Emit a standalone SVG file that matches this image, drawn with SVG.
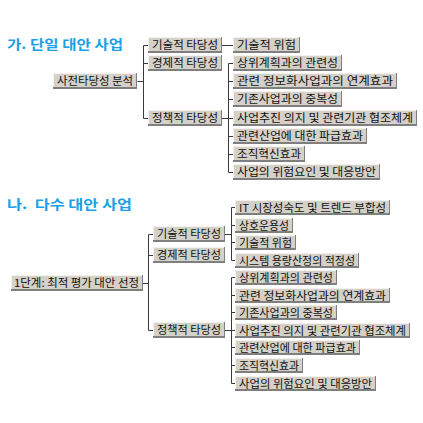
<svg xmlns="http://www.w3.org/2000/svg" width="423" height="423" viewBox="0 0 423 423">
<style>
.t{font-family:"Noto Sans CJK KR","Liberation Sans",sans-serif;font-size:13px;font-weight:bold;fill:#1c9fe6}
.sh{fill:#7f7f7f}
.fc{fill:#d5d1c9}
.hl{fill:none;stroke:#f4f2ee;stroke-width:1}
.lb{font-family:"Noto Sans CJK KR","Liberation Sans",sans-serif;font-size:11px;fill:#111}
.c{fill:none;stroke:#3a3a3a;stroke-width:1}
</style>
<rect width="423" height="423" fill="#fff"/>
<text class="t" x="7" y="49" textLength="116" lengthAdjust="spacingAndGlyphs">가. 단일 대안 사업</text>
<text class="t" x="7" y="209" textLength="125" lengthAdjust="spacingAndGlyphs" xml:space="preserve">나.  다수 대안 사업</text>

<g id="connectors">
<path class="c" d="M137.5,81.5H143.5M143.5,45.5V118.5M143.5,45.5H148M143.5,63.5H148M143.5,118.5H148"/>
<path class="c" d="M222,45.5H233"/>
<path class="c" d="M222,118.5H228.5M228.5,63.5V172.5M228.5,63.5H233M228.5,81.5H233M228.5,99.5H233M228.5,118.5H233M228.5,136.5H233M228.5,154.5H233M228.5,172.5H233"/>
<path class="c" d="M143,283.5H148.5M148.5,234.5V330.5M148.5,234.5H153M148.5,255.5H153M148.5,330.5H153"/>
<path class="c" d="M225,234.5H231.5M231.5,207.5V260.5M231.5,207.5H235M231.5,225.5H235M231.5,242.5H235M231.5,260.5H235"/>
<path class="c" d="M225,330.5H231.5M231.5,277.5V383.5M231.5,277.5H235M231.5,295.5H235M231.5,312.5H235M231.5,330.5H235M231.5,347.5H235M231.5,365.5H235M231.5,383.5H235"/>
</g>

<g id="n-root1"><rect class="sh" x="53" y="73" width="84" height="16"/><rect class="fc" x="53" y="73" width="83" height="14"/><path class="hl" d="M53.5,87V73.5H136"/><text class="lb" x="57" y="85" textLength="76" lengthAdjust="spacingAndGlyphs">사전타당성 분석</text></g>
<g id="n-a-tech"><rect class="sh" x="148" y="37" width="74" height="16"/><rect class="fc" x="148" y="37" width="73" height="14"/><path class="hl" d="M148.5,51V37.5H221"/><text class="lb" x="152" y="49" textLength="66" lengthAdjust="spacingAndGlyphs">기술적 타당성</text></g>
<g id="n-a-econ"><rect class="sh" x="148" y="55" width="74" height="16"/><rect class="fc" x="148" y="55" width="73" height="14"/><path class="hl" d="M148.5,69V55.5H221"/><text class="lb" x="152" y="67" textLength="66" lengthAdjust="spacingAndGlyphs">경제적 타당성</text></g>
<g id="n-a-pol"><rect class="sh" x="148" y="110" width="74" height="16"/><rect class="fc" x="148" y="110" width="73" height="14"/><path class="hl" d="M148.5,124V110.5H221"/><text class="lb" x="152" y="122" textLength="66" lengthAdjust="spacingAndGlyphs">정책적 타당성</text></g>

<g id="n-a1"><rect class="sh" x="233" y="37" width="67" height="16"/><rect class="fc" x="233" y="37" width="66" height="14"/><path class="hl" d="M233.5,51V37.5H299"/><text class="lb" x="237" y="49" textLength="59" lengthAdjust="spacingAndGlyphs">기술적 위험</text></g>
<g id="n-a2"><rect class="sh" x="233" y="55" width="109" height="16"/><rect class="fc" x="233" y="55" width="108" height="14"/><path class="hl" d="M233.5,69V55.5H341"/><text class="lb" x="237" y="67" textLength="101" lengthAdjust="spacingAndGlyphs">상위계획과의 관련성</text></g>
<g id="n-a3"><rect class="sh" x="233" y="73" width="164" height="16"/><rect class="fc" x="233" y="73" width="163" height="14"/><path class="hl" d="M233.5,87V73.5H396"/><text class="lb" x="237" y="85" textLength="156" lengthAdjust="spacingAndGlyphs">관련 정보화사업과의 연계효과</text></g>
<g id="n-a4"><rect class="sh" x="233" y="91" width="109" height="16"/><rect class="fc" x="233" y="91" width="108" height="14"/><path class="hl" d="M233.5,105V91.5H341"/><text class="lb" x="237" y="103" textLength="101" lengthAdjust="spacingAndGlyphs">기존사업과의 중복성</text></g>
<g id="n-a5"><rect class="sh" x="233" y="110" width="184" height="16"/><rect class="fc" x="233" y="110" width="183" height="14"/><path class="hl" d="M233.5,124V110.5H416"/><text class="lb" x="237" y="122" textLength="176" lengthAdjust="spacingAndGlyphs">사업추진 의지 및 관련기관 협조체계</text></g>
<g id="n-a6"><rect class="sh" x="233" y="128" width="134" height="16"/><rect class="fc" x="233" y="128" width="133" height="14"/><path class="hl" d="M233.5,142V128.5H366"/><text class="lb" x="237" y="140" textLength="126" lengthAdjust="spacingAndGlyphs">관련산업에 대한 파급효과</text></g>
<g id="n-a7"><rect class="sh" x="233" y="146" width="72" height="16"/><rect class="fc" x="233" y="146" width="71" height="14"/><path class="hl" d="M233.5,160V146.5H304"/><text class="lb" x="237" y="158" textLength="64" lengthAdjust="spacingAndGlyphs">조직혁신효과</text></g>
<g id="n-a8"><rect class="sh" x="233" y="164" width="147" height="16"/><rect class="fc" x="233" y="164" width="146" height="14"/><path class="hl" d="M233.5,178V164.5H379"/><text class="lb" x="237" y="176" textLength="139" lengthAdjust="spacingAndGlyphs">사업의 위험요인 및 대응방안</text></g>

<g id="n-root2"><rect class="sh" x="11" y="275" width="132" height="16"/><rect class="fc" x="11" y="275" width="131" height="14"/><path class="hl" d="M11.5,289V275.5H142"/><text class="lb" x="14" y="287" textLength="125" lengthAdjust="spacingAndGlyphs">1단계: 최적 평가 대안 선정</text></g>
<g id="n-b-tech"><rect class="sh" x="153" y="226" width="72" height="16"/><rect class="fc" x="153" y="226" width="71" height="14"/><path class="hl" d="M153.5,240V226.5H224"/><text class="lb" x="157" y="238" textLength="64" lengthAdjust="spacingAndGlyphs">기술적 타당성</text></g>
<g id="n-b-econ"><rect class="sh" x="153" y="247" width="72" height="16"/><rect class="fc" x="153" y="247" width="71" height="14"/><path class="hl" d="M153.5,261V247.5H224"/><text class="lb" x="157" y="259" textLength="64" lengthAdjust="spacingAndGlyphs">경제적 타당성</text></g>
<g id="n-b-pol"><rect class="sh" x="153" y="322" width="72" height="16"/><rect class="fc" x="153" y="322" width="71" height="14"/><path class="hl" d="M153.5,336V322.5H224"/><text class="lb" x="157" y="334" textLength="64" lengthAdjust="spacingAndGlyphs">정책적 타당성</text></g>

<g id="n-b1"><rect class="sh" x="235" y="200" width="155" height="15"/><rect class="fc" x="235" y="200" width="154" height="13"/><path class="hl" d="M235.5,213V200.5H389"/><text class="lb" x="239" y="211.5" textLength="147" lengthAdjust="spacingAndGlyphs">IT 시장성숙도 및 트렌드 부합성</text></g>
<g id="n-b2"><rect class="sh" x="235" y="218" width="58" height="15"/><rect class="fc" x="235" y="218" width="57" height="13"/><path class="hl" d="M235.5,231V218.5H292"/><text class="lb" x="239" y="229.5" textLength="50" lengthAdjust="spacingAndGlyphs">상호운용성</text></g>
<g id="n-b3"><rect class="sh" x="235" y="235" width="61" height="15"/><rect class="fc" x="235" y="235" width="60" height="13"/><path class="hl" d="M235.5,248V235.5H295"/><text class="lb" x="239" y="246.5" textLength="53" lengthAdjust="spacingAndGlyphs">기술적 위험</text></g>
<g id="n-b4"><rect class="sh" x="235" y="253" width="124" height="15"/><rect class="fc" x="235" y="253" width="123" height="13"/><path class="hl" d="M235.5,266V253.5H358"/><text class="lb" x="239" y="264.5" textLength="116" lengthAdjust="spacingAndGlyphs">시스템 용량산정의 적정성</text></g>
<g id="n-b5"><rect class="sh" x="235" y="270" width="102" height="15"/><rect class="fc" x="235" y="270" width="101" height="13"/><path class="hl" d="M235.5,283V270.5H336"/><text class="lb" x="239" y="281.5" textLength="94" lengthAdjust="spacingAndGlyphs">상위계획과의 관련성</text></g>
<g id="n-b6"><rect class="sh" x="235" y="288" width="155" height="15"/><rect class="fc" x="235" y="288" width="154" height="13"/><path class="hl" d="M235.5,301V288.5H389"/><text class="lb" x="239" y="299.5" textLength="147" lengthAdjust="spacingAndGlyphs">관련 정보화사업과의 연계효과</text></g>
<g id="n-b7"><rect class="sh" x="235" y="305" width="102" height="15"/><rect class="fc" x="235" y="305" width="101" height="13"/><path class="hl" d="M235.5,318V305.5H336"/><text class="lb" x="239" y="316.5" textLength="94" lengthAdjust="spacingAndGlyphs">기존사업과의 중복성</text></g>
<g id="n-b8"><rect class="sh" x="235" y="323" width="175" height="15"/><rect class="fc" x="235" y="323" width="174" height="13"/><path class="hl" d="M235.5,336V323.5H409"/><text class="lb" x="239" y="334.5" textLength="167" lengthAdjust="spacingAndGlyphs">사업추진 의지 및 관련기관 협조체계</text></g>
<g id="n-b9"><rect class="sh" x="235" y="340" width="125" height="15"/><rect class="fc" x="235" y="340" width="124" height="13"/><path class="hl" d="M235.5,353V340.5H359"/><text class="lb" x="239" y="351.5" textLength="117" lengthAdjust="spacingAndGlyphs">관련산업에 대한 파급효과</text></g>
<g id="n-b10"><rect class="sh" x="235" y="358" width="68" height="15"/><rect class="fc" x="235" y="358" width="67" height="13"/><path class="hl" d="M235.5,371V358.5H302"/><text class="lb" x="239" y="369.5" textLength="60" lengthAdjust="spacingAndGlyphs">조직혁신효과</text></g>
<g id="n-b11"><rect class="sh" x="235" y="376" width="141" height="15"/><rect class="fc" x="235" y="376" width="140" height="13"/><path class="hl" d="M235.5,389V376.5H375"/><text class="lb" x="239" y="387.5" textLength="133" lengthAdjust="spacingAndGlyphs">사업의 위험요인 및 대응방안</text></g>
</svg>
